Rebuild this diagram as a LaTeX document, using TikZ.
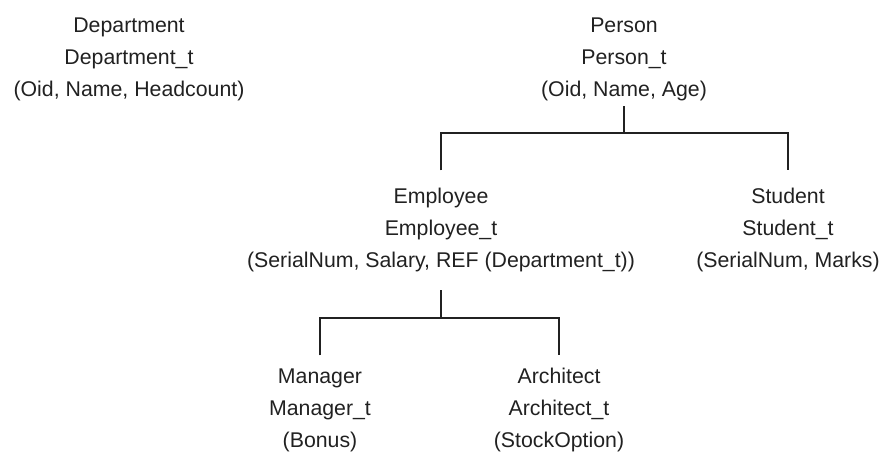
\documentclass[tikz,border=0pt]{standalone}
\usepackage{fontspec}
\usepackage{tikz}
\usetikzlibrary{positioning}
\newfontfamily\TypeFont{Liberation Sans}
\definecolor{ink}{gray}{0.13}

\begin{document}
\begin{tikzpicture}[
	x=0.5pt, y=-0.5pt,
	TypeStyle/.style={align=center, inner sep=0pt, outer sep=0pt, anchor=north,
		text=ink, font=\TypeFont\fontsize{10.65}{16}\selectfont},
	Link/.style={draw=ink, line width=0.65pt},
	]
	\useasboundingbox (0,0) rectangle (882,451);
	% object types
	\node [TypeStyle] (dept) at (129,10) {Department\strut\\Department\_t\strut\\(Oid, Name, Headcount)\strut};
	\node [TypeStyle] (person) at (624,10) {Person\strut\\Person\_t\strut\\(Oid, Name, Age)\strut};
	\node [TypeStyle] (employee) at (441,181) {Employee\strut\\Employee\_t\strut\\(SerialNum, Salary, REF (Department\_t))\strut};
	\node [TypeStyle] (student) at (788,181) {Student\strut\\Student\_t\strut\\(SerialNum, Marks)\strut};
	\node [TypeStyle] (manager) at (320,361) {Manager\strut\\Manager\_t\strut\\(Bonus)\strut};
	\node [TypeStyle] (architect) at (559,361) {Architect\strut\\Architect\_t\strut\\(StockOption)\strut};
	
	% hierarchy
	\coordinate (pbar) at (624,133);
	\coordinate (ebar) at (441,318);
	\draw [Link] (person.south) -- (pbar);
	\draw [Link, shorten <=5.3pt, shorten >=5.3pt] (employee.north) |- (pbar) -| (student.north);
	\draw [Link, shorten <=6.7pt] (employee.south) -- (ebar);
	\draw [Link, shorten <=2.8pt, shorten >=2.8pt] (manager.north) |- (ebar) -| (architect.north);
\end{tikzpicture}
\end{document}
